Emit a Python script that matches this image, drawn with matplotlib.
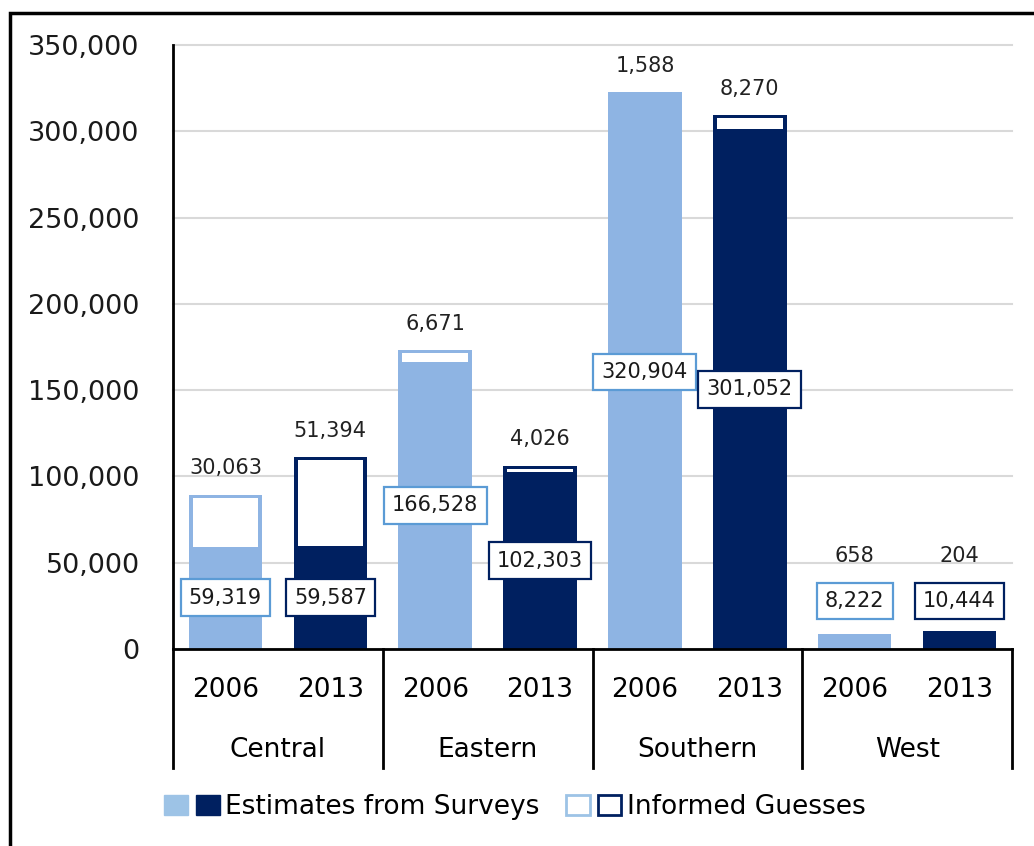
import matplotlib
matplotlib.use('Agg')
import matplotlib.pyplot as plt
from matplotlib.patches import Rectangle, Patch
from matplotlib.legend_handler import HandlerTuple
from matplotlib.lines import Line2D
import matplotlib.transforms as mtransforms

plt.rcParams['font.family'] = ['DejaVu Sans']

regions = ['Central', 'Eastern', 'Southern', 'West']
years = ['2006', '2013']
surveys = [59319, 59587, 166528, 102303, 320904, 301052, 8222, 10444]
guesses = [30063, 51394, 6671, 4026, 1588, 8270, 658, 204]

LIGHT = '#8EB4E3'
DARK = '#002060'
LIGHT_BOX = '#5B9BD5'
LEGEND_LIGHT = '#9DC3E6'

fig = plt.figure(figsize=(10.34, 8.46), dpi=100)
ax = fig.add_axes([173 / 1034, 1 - 649 / 846, (1012 - 173) / 1034, (649 - 45) / 846])

ymax = 350000
px_per_unit = 604 / ymax
inset_top = 3 / px_per_unit
width = 0.7
inner_w = width - 2 * 4 / 105

for i, (s, g) in enumerate(zip(surveys, guesses)):
    col = LIGHT if i % 2 == 0 else DARK
    box_edge = LIGHT_BOX if i % 2 == 0 else DARK
    total = s + g
    # coloured bar up to the total, guesses part hollowed out in white
    ax.bar(i, total, width=width, color=col, zorder=2)
    ax.bar(i, max(g - inset_top, 0), bottom=s, width=inner_w, color='white', zorder=3)

    # survey value, boxed
    lbl_y = max(s / 2, 27800)
    ax.text(i, lbl_y, f'{s:,}', ha='center', va='center', fontsize=15, color='#1a1a1a', zorder=5,
            bbox=dict(boxstyle='square,pad=0.4', fc='white', ec=box_edge, lw=1.6))

    # guesses value above the bar
    anchor = max(total, lbl_y + 11000)
    ax.annotate(f'{g:,}', (i, anchor), xytext=(0, 19), textcoords='offset points',
                ha='center', va='center', fontsize=15, color='#222222', zorder=5)

ax.set_xlim(-0.5, len(surveys) - 0.5)
ax.set_ylim(0, ymax)
ax.set_yticks(range(0, ymax + 1, 50000))
ax.set_yticklabels([f'{v:,}' for v in range(0, ymax + 1, 50000)])
ax.tick_params(axis='y', length=0, pad=24, labelsize=19.5, labelcolor='#1a1a1a')
ax.set_xticks([])
ax.yaxis.grid(True, color='#D9D9D9', lw=1.5, zorder=0)
for gl in ax.get_ygridlines():
    gl.set_clip_on(False)
ax.set_axisbelow(True)
for side in ['top', 'right']:
    ax.spines[side].set_visible(False)
ax.spines['left'].set_linewidth(2)
ax.spines['bottom'].set_linewidth(2)

# two-level category axis
trans = mtransforms.blended_transform_factory(ax.transData, ax.transAxes)
for i in range(len(surveys)):
    ax.text(i, -0.068, years[i % 2], transform=trans, ha='center', va='center', fontsize=19)
for k, name in enumerate(regions):
    ax.text(2 * k + 0.5, -0.167, name, transform=trans, ha='center', va='center', fontsize=19)
for k in range(len(regions) + 1):
    x = 2 * k - 0.5
    ax.add_line(Line2D([x, x], [0, -0.197], transform=trans, color='black', lw=2, clip_on=False))

# legend
h_surv = (Patch(fc=LEGEND_LIGHT, ec=LEGEND_LIGHT), Patch(fc=DARK, ec=DARK))
h_guess = (Patch(fc='white', ec=LEGEND_LIGHT, lw=2), Patch(fc='white', ec=DARK, lw=2))
fig.legend([h_surv, h_guess], ['Estimates from Surveys', 'Informed Guesses'],
           handler_map={tuple: HandlerTuple(ndivide=None, pad=0.3)},
           loc='center', bbox_to_anchor=(0.498, 1 - 807 / 846), ncol=2, frameon=False,
           fontsize=19, handlelength=2.1, handleheight=0.8, handletextpad=0.2,
           columnspacing=1.0)

# outer frame (cut off on the right and bottom in the original)
fig.patches.append(Rectangle((9.5 / 1034, -0.1), 1.2, 1.1 - 13 / 846, transform=fig.transFigure,
                             fill=False, ec='black', lw=2.5))

fig.savefig('out.png', dpi=100)
